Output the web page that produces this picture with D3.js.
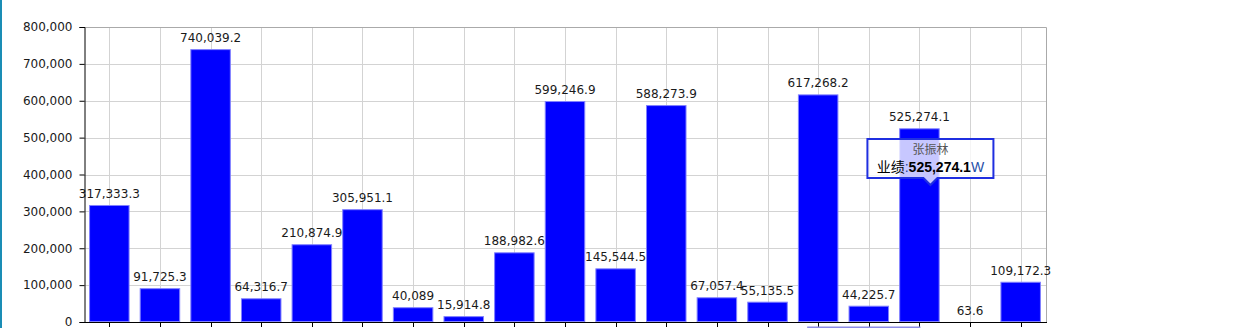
<!DOCTYPE html>
<meta charset="utf-8">
<html>
<head>
  <script src="https://d3js.org/d3.v7.min.js" charset="utf-8"></script>
</head>
<style>
body {
    margin: 0;
    background-color: white;
}
svg text {
    font-family: "DejaVu Sans", Verdana, sans-serif;
}
</style>
<body>
<div id="container"></div>
<script type="text/javascript">

// performance per person (W), 19 people; only the hovered name is visible
var values = [317333.3, 91725.3, 740039.2, 64316.7, 210874.9, 305951.1, 40089, 15914.8,
              188982.6, 599246.9, 145544.5, 588273.9, 67057.4, 55135.5, 617268.2, 44225.7,
              525274.1, 63.6, 109172.3]
var yTicks = [0, 100000, 200000, 300000, 400000, 500000, 600000, 700000, 800000]
var tipIndex = 16
var tipName = "张振林"
var tipLabel = "业绩"
var tipUnit = "W"

var width = 1259
var height = 328
var margin = {left: 84, right: 213, top: 27, bottom: 6}

var svg = d3.select("#container")
            .append("svg")
            .attr("width", width)
            .attr("height", height)

// teal strip on the left edge
svg.append("rect")
   .attr("x", 0).attr("y", 0)
   .attr("width", 2).attr("height", height)
   .attr("fill", "#1a8db5")

var x = d3.scaleBand()
          .domain(d3.range(values.length))
          .range([margin.left, width - margin.right])
          .paddingInner(0.2)
          .paddingOuter(0.1)

var y = d3.scaleLinear()
          .domain([0, 800000])
          .range([height - margin.bottom, margin.top])

var cx = (i) => x(i) + x.bandwidth() / 2
var fmt = d3.format(",")

// grid
svg.append("g")
   .selectAll("line")
   .data(yTicks.slice(1, -1))
   .enter()
   .append("line")
   .attr("x1", margin.left).attr("x2", width - margin.right)
   .attr("y1", (d) => Math.round(y(d)) + 0.5).attr("y2", (d) => Math.round(y(d)) + 0.5)
   .attr("stroke", "#d3d3d3")

svg.append("g")
   .selectAll("line")
   .data(d3.range(values.length))
   .enter()
   .append("line")
   .attr("x1", (d) => Math.round(cx(d)) + 0.5).attr("x2", (d) => Math.round(cx(d)) + 0.5)
   .attr("y1", margin.top).attr("y2", height - margin.bottom)
   .attr("stroke", "#d3d3d3")

// top and right border of the grid
svg.append("path")
   .attr("d", "M" + margin.left + "," + (margin.top + 0.5) + "H" + (width - margin.right + 0.5) + "V" + (height - margin.bottom))
   .attr("fill", "none")
   .attr("stroke", "#aaaaaa")

// bars
svg.selectAll(".bar")
   .data(values)
   .enter()
   .append("rect")
   .attr("class", "bar")
   .attr("x", (d, i) => x(i) + 0.5)
   .attr("y", (d) => y(d) + 0.5)
   .attr("width", x.bandwidth() - 1)
   .attr("height", (d) => Math.max(0, y(0) - y(d) - 1))
   .attr("fill", "#0000ff")
   .attr("stroke", (d) => d > 1000 ? "#8080ff" : "none")

svg.selectAll(".bar-label")
   .data(values)
   .enter()
   .append("text")
   .attr("class", "bar-label")
   .attr("x", (d, i) => cx(i))
   .attr("y", (d) => y(d) - 7)
   .attr("text-anchor", "middle")
   .attr("font-size", "12px")
   .attr("fill", "#1a1a1a")
   .text((d) => fmt(d))

// axes
var yAxis = d3.axisLeft(y).tickValues(yTicks).tickFormat(fmt).tickSize(5).tickPadding(7)
var gy = svg.append("g")
            .attr("transform", "translate(" + (margin.left + 0.5) + ",0)")
            .call(yAxis)
gy.select(".domain").attr("stroke", "#000")
gy.selectAll(".tick line").attr("stroke", "#000")
gy.selectAll(".tick text").attr("font-size", "12px").attr("fill", "#1a1a1a")
  .style("font-family", "'DejaVu Sans', Verdana, sans-serif")

svg.append("line")
   .attr("x1", margin.left).attr("x2", width - margin.right + 1)
   .attr("y1", y(0) + 0.5).attr("y2", y(0) + 0.5)
   .attr("stroke", "#000")

svg.append("g")
   .selectAll("line")
   .data(d3.range(values.length))
   .enter()
   .append("line")
   .attr("x1", (d) => Math.round(cx(d)) + 0.5).attr("x2", (d) => Math.round(cx(d)) + 0.5)
   .attr("y1", y(0)).attr("y2", y(0) + 5)
   .attr("stroke", "#000")

// top of a highlighted category label, cut off by the frame
svg.append("rect")
   .attr("x", cx(14) - 11).attr("y", height - 1.5)
   .attr("width", cx(16) - cx(14) + 12).attr("height", 2)
   .attr("fill", "#8c8ce6")

// tooltip (sits a little right of the bar centre, following the mouse)
var tx = cx(tipIndex) + 11
var tipW = 126, tipH = 39
var tipTop = 139
var tip = svg.append("g")

tip.append("path")
   .attr("d", "M" + (tx - tipW / 2) + "," + tipTop + "h" + tipW + "v" + tipH +
              "H" + (tx + 7) + "l-7,7l-7,-7H" + (tx - tipW / 2) + "Z")
   .attr("fill", "rgba(255,255,255,0.78)")
   .attr("stroke", "#1f2fe0")
   .attr("stroke-width", 2)

tip.append("text")
   .attr("x", tx)
   .attr("y", tipTop + 15)
   .attr("text-anchor", "middle")
   .attr("font-size", "12px")
   .attr("fill", "#555")
   .style("font-family", "'Noto Sans CJK SC', sans-serif")
   .text(tipName)

var line2 = tip.append("text")
   .attr("x", tx)
   .attr("y", tipTop + 33)
   .attr("text-anchor", "middle")
   .attr("font-size", "14px")
   .style("font-family", "'Liberation Sans', Arial, sans-serif")

line2.append("tspan").attr("fill", "#000")
     .style("font-family", "'Noto Sans CJK SC', sans-serif").text(tipLabel)
line2.append("tspan").attr("fill", "#1f3f9f").text(":")
line2.append("tspan").attr("fill", "#000").attr("font-weight", "bold").text(fmt(values[tipIndex]))
line2.append("tspan").attr("fill", "#1f4fa8").text(tipUnit)

</script>
</body>
</html>
